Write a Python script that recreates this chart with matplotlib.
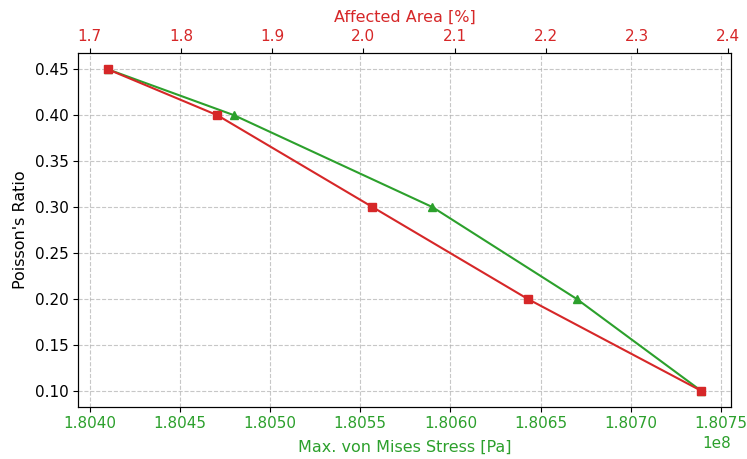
import matplotlib
matplotlib.use("Agg")
import matplotlib.pyplot as plt

poisson = [0.45, 0.40, 0.30, 0.20, 0.10]
stress_pa = [1.80410e8, 1.80480e8, 1.80590e8, 1.80670e8, 1.80739e8]
affected_area = [1.72, 1.84, 2.01, 2.18, 2.37]

plt.rcParams['xtick.labelsize'] = 11
plt.rcParams['ytick.labelsize'] = 11
plt.rcParams['axes.labelsize'] = 11.5

fig, ax = plt.subplots(figsize=(7.47, 4.59), dpi=100)
fig.subplots_adjust(left=0.1048, right=0.978, top=0.8839, bottom=0.1139)

ax.plot(stress_pa, poisson, color='tab:green', marker='^', linewidth=1.5)
ax.set_xlabel('Max. von Mises Stress [Pa]', color='tab:green', labelpad=6)
ax.set_ylabel("Poisson's Ratio", labelpad=5)
ax.tick_params(axis='x', labelcolor='tab:green')
ax.xaxis.get_offset_text().set_fontsize(11)
ax.grid(True, linestyle='--', alpha=0.7)

ax2 = ax.twiny()
ax2.plot(affected_area, poisson, color='tab:red', marker='s', linewidth=1.5)
ax2.set_xlabel('Affected Area [%]', color='tab:red', labelpad=5)
ax2.tick_params(axis='x', labelcolor='tab:red')

fig.savefig('out.png', dpi=100)
